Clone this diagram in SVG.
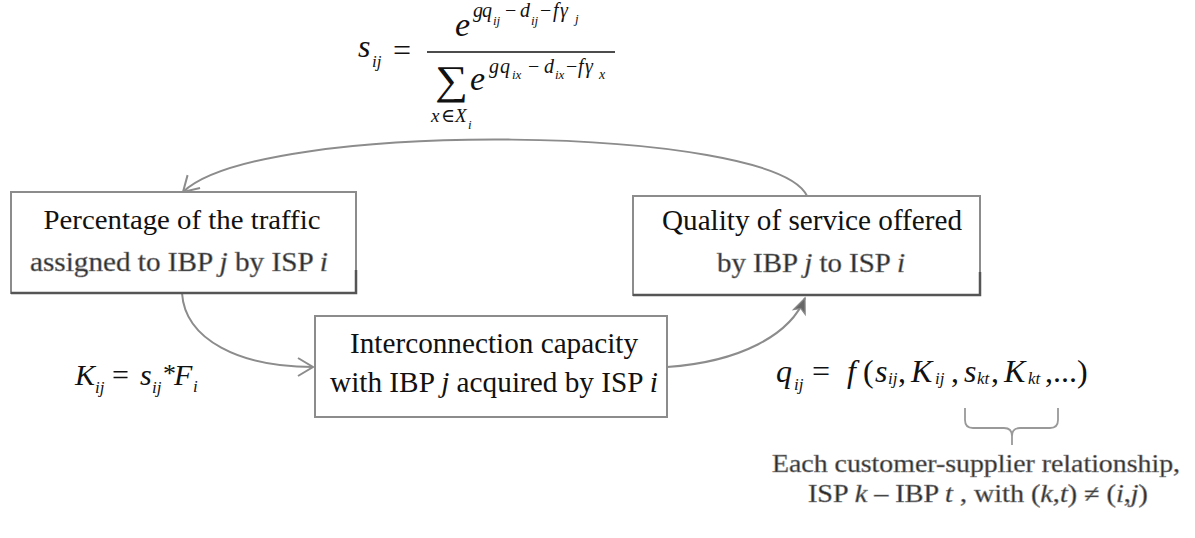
<svg xmlns="http://www.w3.org/2000/svg" width="1195" height="538" viewBox="0 0 1195 538">
<style>
text{font-family:'Liberation Serif','Times New Roman',Tinos,'Noto Serif','DejaVu Serif',FreeSerif,'Nimbus Roman',Times,serif}
.t{fill:#111}
.h{fill:#2a2a2a;stroke:#8a8a8a;stroke-width:0.6}
.i{font-style:italic}
.box{fill:#fff;stroke:#8c8c8c;stroke-width:2}
.shadow{fill:none;stroke:#555;stroke-width:2.5}
.conn{fill:none;stroke:#8c8c8c;stroke-width:2}
</style>
<defs>
<marker id="vopen" markerUnits="userSpaceOnUse" markerWidth="24" markerHeight="24" viewBox="-20 -12 24 24" refX="0" refY="0" orient="auto">
<path d="M-15,-9 L0,0 L-15,9" fill="none" stroke="#8c8c8c" stroke-width="2"/>
</marker>
<marker id="vsolid" markerUnits="userSpaceOnUse" markerWidth="20" markerHeight="20" viewBox="-14 -8 16 16" refX="0" refY="0" orient="auto">
<path d="M-12,-5 L0,0 L-12,5 L-9,0 Z" fill="#666" stroke="#888" stroke-width="1"/>
</marker>
</defs>

<g id="formula-s">
<text class="t i" x="358" y="57" font-size="32">s</text>
<text class="t i" x="372" y="67" font-size="17">ij</text>
<text class="t" x="402" y="61" font-size="32" text-anchor="middle">=</text>
<line x1="427" y1="52" x2="615" y2="52" stroke="#111" stroke-width="1.5"/>
<text class="t i" x="455" y="36" font-size="34">e</text>
<text class="t i" font-size="20" y="17"><tspan x="473">g</tspan><tspan x="482">q</tspan><tspan x="493" y="25" font-size="13">ij</tspan><tspan x="505" y="17" font-style="normal">−</tspan><tspan x="520">d</tspan><tspan x="531" y="25" font-size="13">ij</tspan><tspan x="540" y="17" font-style="normal">−</tspan><tspan x="553">f</tspan><tspan x="560">γ</tspan><tspan x="575" y="23" font-size="13">j</tspan></text>
<text class="t" x="435" y="94" font-size="41" textLength="33" lengthAdjust="spacingAndGlyphs">∑</text>
<text class="t i" x="470" y="90" font-size="34">e</text>
<text class="t i" font-size="20" y="73"><tspan x="489">g</tspan><tspan x="500">q</tspan><tspan x="512" y="79" font-size="13">ix</tspan><tspan x="528" y="73" font-style="normal">−</tspan><tspan x="544">d</tspan><tspan x="555" y="79" font-size="13">ix</tspan><tspan x="566" y="73" font-style="normal">−</tspan><tspan x="578">f</tspan><tspan x="585">γ</tspan><tspan x="599" y="79" font-size="14">x</tspan></text>
<text class="t i" font-size="19" y="122"><tspan x="431">x</tspan><tspan x="441" font-style="normal">∈</tspan><tspan x="455">X</tspan><tspan x="468" y="129" font-size="13">i</tspan></text>
</g>

<g id="connectors">
<path class="conn" d="M807,196 C775,125 260,118 183,192" marker-end="url(#vopen)"/>
<path class="conn" d="M182,293 C185,340 240,367 313,367" marker-end="url(#vopen)"/>
<path class="conn" d="M667,367 C740,362 790,335 805,298" marker-end="url(#vsolid)"/>
</g>

<g id="node-percentage">
<rect class="box" x="11" y="192" width="345" height="101"/>
<path class="shadow" d="M11,293 H356 V270"/>
<text class="t" x="182" y="229" font-size="28" text-anchor="middle" textLength="277" lengthAdjust="spacingAndGlyphs">Percentage of the traffic</text>
<text class="h" x="179" y="271" font-size="28" text-anchor="middle" textLength="298" lengthAdjust="spacingAndGlyphs">assigned to IBP <tspan class="i">j</tspan> by ISP <tspan class="i">i</tspan></text>
</g>

<g id="node-quality">
<rect class="box" x="633" y="196" width="347" height="99"/>
<path class="shadow" d="M633,295 H980 V272"/>
<text class="t" x="812" y="230" font-size="29" text-anchor="middle" textLength="300" lengthAdjust="spacingAndGlyphs">Quality of service offered</text>
<text class="h" x="811" y="272" font-size="28" text-anchor="middle" textLength="188" lengthAdjust="spacingAndGlyphs">by IBP <tspan class="i">j</tspan> to ISP <tspan class="i">i</tspan></text>
</g>

<g id="node-capacity">
<rect class="box" x="315" y="316" width="352" height="101"/>
<text class="t" x="494" y="353" font-size="29" text-anchor="middle" textLength="288" lengthAdjust="spacingAndGlyphs">Interconnection capacity</text>
<text class="t" x="494" y="392" font-size="29" text-anchor="middle" textLength="328" lengthAdjust="spacingAndGlyphs">with IBP <tspan class="i">j</tspan> acquired by ISP <tspan class="i">i</tspan></text>
</g>

<g id="formula-k">
<text class="t i" x="75" y="385" font-size="30">K</text>
<text class="t i" x="95" y="393" font-size="17">ij</text>
<text class="t" x="112" y="385" font-size="30">=</text>
<text class="t i" x="140" y="385" font-size="30">s</text>
<text class="t i" x="152" y="393" font-size="17">ij</text>
<text class="t" x="163" y="382" font-size="26">*</text>
<text class="t i" x="174" y="385" font-size="30">F</text>
<text class="t i" x="193" y="392" font-size="17">i</text>
</g>

<g id="formula-q">
<text class="t i" x="776" y="382" font-size="32">q</text>
<text class="t i" x="794" y="390" font-size="17">ij</text>
<text class="t" x="812" y="382" font-size="32">=</text>
<text class="t i" x="847" y="382" font-size="32">f</text>
<text class="t" x="863" y="382" font-size="32">(</text>
<text class="t i" x="875" y="382" font-size="32">s</text>
<text class="t i" x="888" y="384" font-size="17">ij</text>
<text class="t" x="898" y="382" font-size="32">,</text>
<text class="t i" x="911" y="382" font-size="32">K</text>
<text class="t i" x="935" y="384" font-size="17">ij</text>
<text class="t" x="951" y="382" font-size="32">,</text>
<text class="t i" x="964" y="382" font-size="32">s</text>
<text class="t i" x="977" y="384" font-size="17">kt</text>
<text class="t" x="991" y="382" font-size="32">,</text>
<text class="t i" x="1004" y="382" font-size="32">K</text>
<text class="t i" x="1028" y="384" font-size="17">kt</text>
<text class="t" x="1045" y="382" font-size="32">,...)</text>
</g>

<g id="brace">
<path d="M965,408 V420 Q965,428 973,428 H1004 Q1012,428 1012,436 V445 M1012,436 Q1012,428 1020,428 H1050 Q1058,428 1058,420 V408" fill="none" stroke="#999" stroke-width="1.8"/>
</g>

<g id="note">
<text class="h" x="976" y="472" font-size="25" text-anchor="middle" textLength="408" lengthAdjust="spacingAndGlyphs">Each customer-supplier relationship,</text>
<text class="h" x="978" y="502" font-size="25" text-anchor="middle" textLength="340" lengthAdjust="spacingAndGlyphs">ISP <tspan class="i">k</tspan> – IBP <tspan class="i">t</tspan> ,  with (<tspan class="i">k</tspan>,<tspan class="i">t</tspan>) ≠ (<tspan class="i">i</tspan>,<tspan class="i">j</tspan>)</text>
</g>
</svg>
